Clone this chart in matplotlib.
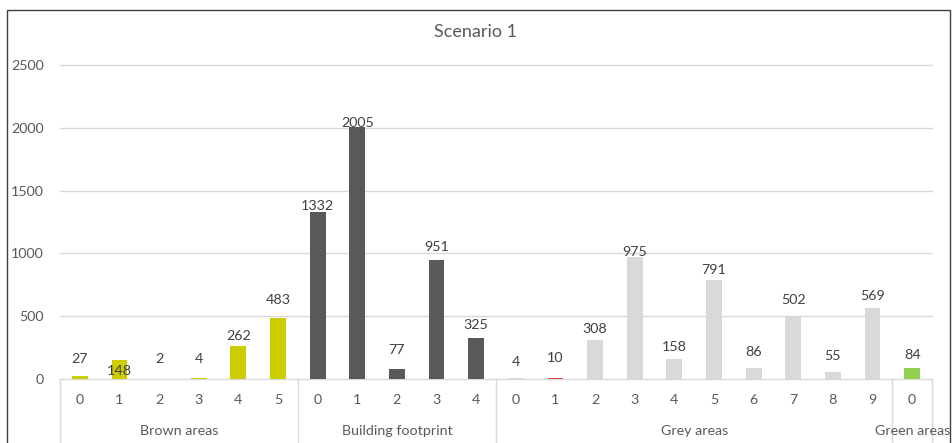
import numpy as np
import matplotlib.pyplot as plt
from matplotlib.patches import Rectangle

# land-cover classes and counts per sub-class
groups = ["Brown areas", "Building footprint", "Grey areas", "Green areas"]
brown = [27, 148, 2, 4, 262, 483]
building = [1332, 2005, 77, 951, 325]
grey = [4, 10, 308, 975, 158, 791, 86, 502, 55, 569]
green = [84]
yticks = [0, 500, 1000, 1500, 2000, 2500]

series = [brown, building, grey, green]
group_colors = ["#CCCC00", "#595959", "#D9D9D9", "#92D050"]
txt = "#595959"
grid_c = "#D9D9D9"
fs = 10.3

# vertical nudge of each value label above its bar (pixels)
label_dy = [17, -11, 20, 19, 10, 18,
            6, 4, 19, 13, 13,
            16, 20, 11, 5, 12, 10, 16, 16, 16, 12,
            13]

plt.rcParams['font.family'] = ['Lato', 'DejaVu Sans']

values, colors, sub_labels, bounds = [], [], [], [-0.5]
for g, vals in enumerate(series):
    for i, v in enumerate(vals):
        values.append(v)
        colors.append(group_colors[g])
        sub_labels.append(str(i))
    bounds.append(len(values) - 0.5)
colors[len(brown) + len(building) + 1] = "#E04848"  # highlighted grey class
x = np.arange(len(values))

fig = plt.figure(figsize=(9.52, 4.43), dpi=100)
ax = fig.add_axes([60 / 952, 64 / 443, 872 / 952, 314 / 443])

for t in yticks:
    ax.axhline(t, color=grid_c, lw=1, zorder=0, clip_on=False)

ax.bar(x, values, width=0.4, color=colors, zorder=2)
ax.set_xlim(-0.5, len(values) - 0.5)
ax.set_ylim(0, 2500)
ax.set_yticks(yticks)
ax.set_xticks([])
ax.tick_params(axis='y', length=0, pad=11.5, labelcolor=txt, labelsize=fs)
for s in ax.spines.values():
    s.set_visible(False)

for xi, v, dy in zip(x, values, label_dy):
    ax.annotate(str(v), (xi, v), xytext=(0, dy * 0.72), textcoords='offset points',
                ha='center', va='center', color="#404040", fontsize=fs, zorder=3)

# two-level category axis
tr = ax.get_xaxis_transform()
for xi, lab in zip(x, sub_labels):
    ax.text(xi, -21 / 314, lab, transform=tr, ha='center', va='center',
            color=txt, fontsize=fs)
for b in bounds:
    ax.plot([b, b], [0, -0.3], transform=tr, color=grid_c, lw=1, clip_on=False)
for g, name in enumerate(groups):
    ax.text((bounds[g] + bounds[g + 1]) / 2, -52 / 314, name, transform=tr,
            ha='center', va='center', color=txt, fontsize=fs)

fig.text(475 / 952, 1 - 32 / 443, "Scenario 1", ha='center', va='center',
         color=txt, fontsize=13)
fig.add_artist(Rectangle((7 / 952, -0.1), 943 / 952, 433 / 443 + 0.1,
                         transform=fig.transFigure, fill=False,
                         ec="#404040", lw=1))

fig.savefig("out.png", dpi=100)
